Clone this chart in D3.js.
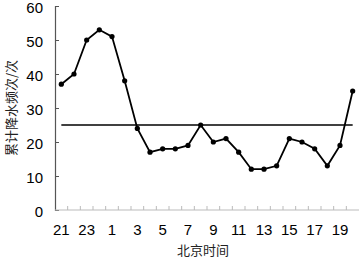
<!DOCTYPE html>
<html>
<head>
<meta charset="utf-8">
<script src="https://cdn.jsdelivr.net/npm/d3@7"></script>
<style>
  body { margin: 0; background: #fff; }
  svg { display: block; font-family: "Liberation Sans", Arial, sans-serif; }
</style>
</head>
<body>
<svg id="chart" width="360" height="259"></svg>
<script>
// hours (Beijing time), starting at 21
var hours = [21, 22, 23, 0, 1, 2, 3, 4, 5, 6, 7, 8, 9, 10, 11, 12, 13, 14, 15, 16, 17, 18, 19, 20];
var counts = [37, 40, 50, 53, 51, 38, 24, 17, 18, 18, 19, 25, 20, 21, 17, 12, 12, 13, 21, 20, 18, 13, 19, 35];
var yTicks = [0, 10, 20, 30, 40, 50, 60];
var xLabels = [21, 23, 1, 3, 5, 7, 9, 11, 13, 15, 17, 19];
var meanLine = 25;

var svg = d3.select("#chart");

var x = d3.scaleBand().domain(hours).range([55, 359]);
var y = d3.scaleLinear().domain([0, 60]).range([210, 6]);

// y axis, ticks point inwards
var yAxis = d3.axisLeft(y).tickValues(yTicks).tickSize(-4).tickPadding(12);
var gy = svg.append("g").attr("transform", "translate(55,0)").call(yAxis);
gy.select(".domain").attr("stroke", "#555").attr("stroke-width", 1.2);
gy.selectAll(".tick line").attr("stroke", "#555");
gy.selectAll(".tick text")
  .style("font-size", "15px")
  .attr("dy", "0.45em")
  .attr("fill", "#000");

// x axis: ticks on band boundaries, labels on every second hour
var xg = svg.append("g");
xg.append("line")
  .attr("x1", 55).attr("x2", 359)
  .attr("y1", y(0)).attr("y2", y(0))
  .attr("stroke", "#bbb").attr("stroke-width", 1);
xg.selectAll("line.tk")
  .data(hours.slice(1))
  .enter().append("line")
  .attr("class", "tk")
  .attr("x1", function(d) { return x(d); })
  .attr("x2", function(d) { return x(d); })
  .attr("y1", y(0)).attr("y2", y(0) - 4)
  .attr("stroke", "#bbb");
xg.selectAll("text")
  .data(xLabels)
  .enter().append("text")
  .attr("x", function(d) { return x(d) + x.bandwidth() / 2; })
  .attr("y", 235)
  .attr("text-anchor", "middle")
  .style("font-size", "15px")
  .text(function(d) { return d; });

// axis titles
svg.append("text")
  .attr("x", 203).attr("y", 255)
  .attr("text-anchor", "middle")
  .attr("fill", "#222")
  .style("font-size", "13px")
  .style("font-family", "'Noto Sans CJK SC', sans-serif")
  .text("北京时间");

svg.append("text")
  .attr("transform", "translate(16,108) rotate(-90)")
  .attr("text-anchor", "middle")
  .attr("fill", "#222")
  .style("font-size", "13px")
  .style("font-family", "'Noto Sans CJK SC', sans-serif")
  .text("累计降水频次/次");

// reference line
svg.append("line")
  .attr("x1", x(hours[0]) + x.bandwidth() / 2)
  .attr("x2", x(hours[hours.length - 1]) + x.bandwidth() / 2)
  .attr("y1", y(meanLine)).attr("y2", y(meanLine))
  .attr("stroke", "#000").attr("stroke-width", 1.6);

// series
var line = d3.line()
  .x(function(d, i) { return x(hours[i]) + x.bandwidth() / 2; })
  .y(function(d) { return y(d); });

svg.append("path")
  .datum(counts)
  .attr("d", line)
  .attr("fill", "none")
  .attr("stroke", "#000")
  .attr("stroke-width", 1.8);

svg.selectAll("circle")
  .data(counts)
  .enter().append("circle")
  .attr("cx", function(d, i) { return x(hours[i]) + x.bandwidth() / 2; })
  .attr("cy", function(d) { return y(d); })
  .attr("r", 2.6)
  .attr("fill", "#000");
</script>
</body>
</html>
